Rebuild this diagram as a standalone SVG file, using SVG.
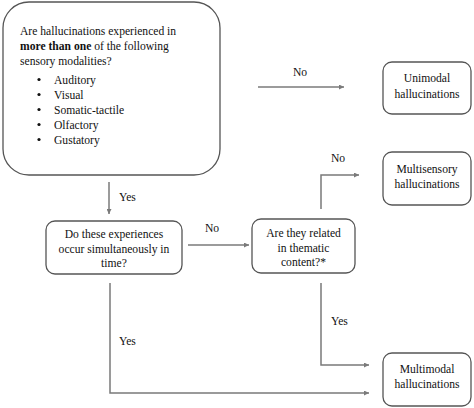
<svg xmlns="http://www.w3.org/2000/svg" width="474" height="408" viewBox="0 0 474 408">
<defs>
<style>
.box{fill:#fff;stroke:#555;stroke-width:1.3}
.t{font-family:"Liberation Serif","Times New Roman",serif;font-size:11.6px;fill:#111}
.c{text-anchor:middle}
.ln{fill:none;stroke:#7a7a7a;stroke-width:1.5}
</style>
<marker id="ah" viewBox="0 0 10 10" refX="10" refY="5" markerWidth="6" markerHeight="5" orient="auto" markerUnits="userSpaceOnUse"><path d="M0,0 L10,5 L0,10 z" fill="#7a7a7a"/></marker>
</defs>
<rect width="474" height="408" fill="#fff"/>
<g id="connectors">
<line class="ln" x1="109" y1="182" x2="109" y2="214" marker-end="url(#ah)"/>
<text class="t" x="119" y="201">Yes</text>
<line class="ln" x1="258" y1="87" x2="344" y2="87" marker-end="url(#ah)"/>
<text class="t" x="293" y="76">No</text>
<line class="ln" x1="188" y1="245" x2="249" y2="245" marker-end="url(#ah)"/>
<text class="t" x="205" y="232">No</text>
<polyline class="ln" points="321,209 321,175 359,175" marker-end="url(#ah)"/>
<text class="t" x="331" y="162">No</text>
<polyline class="ln" points="321,283 321,365 369,365" marker-end="url(#ah)"/>
<text class="t" x="331" y="325">Yes</text>
<polyline class="ln" points="110,283 110,393 369,393" marker-end="url(#ah)"/>
<text class="t" x="119" y="345">Yes</text>
</g>
<g id="start">
<rect class="box" x="3" y="2" width="217" height="173" rx="26"/>
<text class="t" x="20" y="35">Are hallucinations experienced in</text>
<text class="t" x="20" y="50"><tspan font-weight="bold">more than one</tspan> of the following</text>
<text class="t" x="20" y="65">sensory modalities?</text>
<g class="t">
<circle cx="39" cy="79.5" r="1.6" fill="#111"/><text class="t" x="54" y="84">Auditory</text>
<circle cx="39" cy="94.5" r="1.6" fill="#111"/><text class="t" x="54" y="99">Visual</text>
<circle cx="39" cy="109.5" r="1.6" fill="#111"/><text class="t" x="54" y="114">Somatic-tactile</text>
<circle cx="39" cy="124.5" r="1.6" fill="#111"/><text class="t" x="54" y="129">Olfactory</text>
<circle cx="39" cy="139.5" r="1.6" fill="#111"/><text class="t" x="54" y="144">Gustatory</text>
</g>
</g>
<g id="simultaneous">
<rect class="box" x="46" y="221" width="136" height="53" rx="9"/>
<text class="t c" x="114" y="238">Do these experiences</text>
<text class="t c" x="114" y="253">occur simultaneously in</text>
<text class="t c" x="114" y="267">time?</text>
</g>
<g id="thematic">
<rect class="box" x="252" y="219" width="103" height="54" rx="9"/>
<text class="t c" x="303.5" y="237">Are they related</text>
<text class="t c" x="303.5" y="252">in thematic</text>
<text class="t c" x="303.5" y="266">content?*</text>
</g>
<g id="unimodal">
<rect class="box" x="383" y="62" width="88" height="52" rx="9"/>
<text class="t c" x="427" y="82">Unimodal</text>
<text class="t c" x="427" y="98">hallucinations</text>
</g>
<g id="multisensory">
<rect class="box" x="383" y="152" width="88" height="53" rx="9"/>
<text class="t c" x="427" y="173">Multisensory</text>
<text class="t c" x="427" y="188">hallucinations</text>
</g>
<g id="multimodal">
<rect class="box" x="383" y="353" width="88" height="53" rx="9"/>
<text class="t c" x="427" y="373">Multimodal</text>
<text class="t c" x="427" y="388">hallucinations</text>
</g>
</svg>
